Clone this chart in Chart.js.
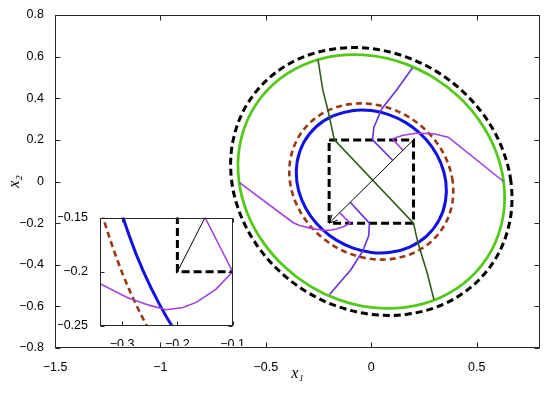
<!DOCTYPE html>
<html>
<head>
<meta charset="utf-8">
<script src="https://cdn.jsdelivr.net/npm/chart.js@4.4.0/dist/chart.umd.min.js"></script>
<style>
    html, body { margin: 0; padding: 0; background: #fff; }
    #wrap { position: relative; width: 550px; height: 393px; }
    #main { position: absolute; left: 0; top: 0; }
    #inset { position: absolute; left: 58px; top: 206px; }
</style>
</head>
<body>
<div id="wrap">
    <canvas id="main" width="550" height="393"></canvas>
    <canvas id="inset" width="190" height="140"></canvas>
</div>
<script>
// Tick labels
const xTicks = [-1.5, -1, -0.5, 0, 0.5];
const yTicks = [-0.8, -0.6, -0.4, -0.2, 0, 0.2, 0.4, 0.6, 0.8];
const insetXTicks = [-0.3, -0.2, -0.1];
const insetYTicks = [-0.25, -0.2, -0.15];

// Level curves, drawn as closed loops
const outerLevel = [[0.6620,0],[0.6181,0.1656],[0.5390,0.3112],[0.4332,0.4332],[0.3062,0.5302],[0.1608,0.6002],[0,0.6385],[-0.1709,0.6379],[-0.3408,0.5902],[-0.4914,0.4914],[-0.6022,0.3477],[-0.6595,0.1767],[-0.6620,0],[-0.6181,-0.1656],[-0.5390,-0.3112],[-0.4332,-0.4332],[-0.3062,-0.5302],[-0.1608,-0.6002],[0,-0.6385],[0.1709,-0.6379],[0.3408,-0.5902],[0.4914,-0.4914],[0.6022,-0.3477],[0.6595,-0.1767]];
const greenLevel = [[0.6275,0],[0.5859,0.1570],[0.5109,0.2950],[0.4106,0.4106],[0.2902,0.5026],[0.1524,0.5689],[0,0.6052],[-0.1620,0.6046],[-0.3230,0.5594],[-0.4658,0.4658],[-0.5708,0.3296],[-0.6251,0.1675],[-0.6275,0],[-0.5859,-0.1570],[-0.5109,-0.2950],[-0.4106,-0.4106],[-0.2902,-0.5026],[-0.1524,-0.5689],[0,-0.6052],[0.1620,-0.6046],[0.3230,-0.5594],[0.4658,-0.4658],[0.5708,-0.3296],[0.6251,-0.1675]];
const brownLevel = [[0.3859,0],[0.3603,0.0966],[0.3142,0.1814],[0.2525,0.2525],[0.1785,0.3091],[0.0937,0.3499],[0,0.3722],[-0.0996,0.3718],[-0.1986,0.3440],[-0.2865,0.2865],[-0.3510,0.2027],[-0.3844,0.1030],[-0.3859,0],[-0.3603,-0.0966],[-0.3142,-0.1814],[-0.2525,-0.2525],[-0.1785,-0.3091],[-0.0937,-0.3499],[0,-0.3722],[0.0996,-0.3718],[0.1986,-0.3440],[0.2865,-0.2865],[0.3510,-0.2027],[0.3844,-0.1030]];
const blueLevel = [[0.3533,0],[0.3299,0.0884],[0.2876,0.1661],[0.2312,0.2312],[0.1634,0.2830],[0.0858,0.3203],[0,0.3407],[-0.0912,0.3404],[-0.1818,0.3149],[-0.2622,0.2622],[-0.3214,0.1856],[-0.3519,0.0943],[-0.3533,0],[-0.3299,-0.0884],[-0.2876,-0.1661],[-0.2312,-0.2312],[-0.1634,-0.2830],[-0.0858,-0.3203],[0,-0.3407],[0.0912,-0.3404],[0.1818,-0.3149],[0.2622,-0.2622],[0.3214,-0.1856],[0.3519,-0.0943]];

// Box and diagonal
const boxCorners = [[-0.2,0.2],[0.2,0.2],[0.2,-0.2],[-0.2,-0.2],[-0.2,0.2]];
const diagonal = [[0.2,0.2],[-0.2,-0.2]];

// Trajectories
const trajGreen = [[-0.253,0.587],[-0.23,0.44],[-0.205,0.34],[-0.19,0.27],[-0.175,0.2],[0.2,-0.2],[0.22,-0.29],[0.265,-0.44],[0.297,-0.567]];
const trajViolet1 = [[0.195,0.545],[0.12,0.44],[0.05,0.35],[0.012,0.26],[0.006,0.2],[0.1,0.103]];
const trajViolet2 = [[-0.198,-0.543],[-0.096,-0.423],[-0.041,-0.335],[-0.012,-0.26],[-0.009,-0.2],[-0.1,-0.1]];
const trajMagenta1 = [[0.627,0.0],[0.365,0.213],[0.3,0.228],[0.22,0.233],[0.15,0.222],[0.1,0.205],[0.15,0.15]];
const trajMagenta2 = [[-0.625,-0.005],[-0.37,-0.198],[-0.34,-0.211],[-0.29,-0.224],[-0.25,-0.231],[-0.22,-0.235],[-0.19,-0.233],[-0.165,-0.228],[-0.13,-0.216],[-0.1,-0.2],[-0.15,-0.15]];

const tickFont = { family: "'Liberation Sans', Arial, sans-serif", size: 12.5 };
const titleFont = { family: "'Liberation Serif', 'DejaVu Serif', serif", style: 'italic', size: 16 };

function fmt(v) {
    const r = Math.round(v * 100) / 100;
    return String(r).replace('-', '\u2212');
}

function line(points, color, width, extra) {
    return Object.assign({
        data: points.map(p => ({ x: p[0], y: p[1] })),
        showLine: true,
        borderColor: color,
        backgroundColor: color,
        borderWidth: width,
        pointRadius: 0,
        tension: 0,
        fill: false
    }, extra || {});
}

// first entry is drawn on top
function makeDatasets() {
    return [
        line(diagonal, '#000', 1),
        line(trajMagenta1, '#a13fe0', 1.6),
        line(trajMagenta2, '#a13fe0', 1.6),
        line(trajViolet1, '#6930d6', 1.6),
        line(trajViolet2, '#6930d6', 1.6),
        line(trajGreen, '#2e5e18', 1.6),
        line(boxCorners, '#000', 3, { borderDash: [8, 4] }),
        line(blueLevel, '#1212e0', 3, { tension: 0.34, closed: true }),
        line(brownLevel, '#9a3812', 2.6, { tension: 0.34, closed: true, borderDash: [6, 4] }),
        line(greenLevel, '#55c81c', 2.8, { tension: 0.34, closed: true }),
        line(outerLevel, '#000', 3, { tension: 0.34, closed: true, borderDash: [7, 4] })
    ];
}

// close the level curves into smooth loops
const closeLoops = {
    id: 'closeLoops',
    beforeDatasetsDraw(chart) {
        chart.data.datasets.forEach((ds, i) => {
            if (!ds.closed) return;
            const meta = chart.getDatasetMeta(i);
            const el = meta.dataset;
            el._loop = true;
            el._fullLoop = true;
            delete el._segments;
            el._path = undefined;
            el._pointsUpdated = false;
            el.updateControlPoints(chart.chartArea, meta.iScale ? meta.iScale.axis : 'x');
        });
    }
};

function frameAndTicks(xt, yt, len, arrow) {
    return {
        id: 'frameAndTicks',
        beforeDraw(chart) {
            const { ctx, chartArea: a } = chart;
            ctx.save();
            ctx.fillStyle = '#fff';
            if (arrow) ctx.fillRect(0, 0, chart.width, chart.height);
            else ctx.fillRect(a.left, a.top, a.right - a.left, a.bottom - a.top);
            ctx.restore();
        },
        afterDraw(chart) {
            const { ctx, chartArea: a, scales } = chart;
            ctx.save();
            ctx.strokeStyle = '#262626';
            ctx.lineWidth = 1;
            const L = Math.round(a.left) + 0.5, R = Math.round(a.right) - 0.5;
            const T = Math.round(a.top) + 0.5, B = Math.round(a.bottom) - 0.5;
            ctx.strokeRect(L, T, R - L, B - T);
            ctx.beginPath();
            xt.forEach(v => {
                const px = Math.round(scales.x.getPixelForValue(v)) + 0.5;
                ctx.moveTo(px, B); ctx.lineTo(px, B - len);
                ctx.moveTo(px, T); ctx.lineTo(px, T + len);
            });
            yt.forEach(v => {
                const py = Math.round(scales.y.getPixelForValue(v)) + 0.5;
                ctx.moveTo(L, py); ctx.lineTo(L + len, py);
                ctx.moveTo(R, py); ctx.lineTo(R - len, py);
            });
            ctx.stroke();
            if (arrow) {
                const tipX = scales.x.getPixelForValue(diagonal[1][0]);
                const tipY = scales.y.getPixelForValue(diagonal[1][1]);
                const tailX = scales.x.getPixelForValue(diagonal[0][0]);
                const tailY = scales.y.getPixelForValue(diagonal[0][1]);
                const ang = Math.atan2(tailY - tipY, tailX - tipX);
                ctx.strokeStyle = '#000';
                ctx.beginPath();
                [-0.45, 0.45].forEach(d => {
                    ctx.moveTo(tipX, tipY);
                    ctx.lineTo(tipX + 9 * Math.cos(ang + d), tipY + 9 * Math.sin(ang + d));
                });
                ctx.stroke();
            }
            ctx.restore();
        }
    };
}

function axis(min, max, ticks, size, pad, isX, title) {
    const s = {
        type: 'linear',
        min: min,
        max: max,
        afterBuildTicks: a => { a.ticks = ticks.map(v => ({ value: v })); },
        afterFit: sc => { if (isX) sc.height = size; else sc.width = size; },
        grid: { display: false },
        border: { display: false },
        ticks: { font: tickFont, color: '#000', padding: pad, maxRotation: 0, autoSkip: false, callback: v => fmt(v) }
    };
    if (title) s.title = title;
    return s;
}

new Chart(document.getElementById('main'), {
    type: 'scatter',
    data: { datasets: makeDatasets() },
    options: {
        responsive: false,
        animation: false,
        events: [],
        layout: { padding: { left: 0, right: 10, top: 15, bottom: 0 } },
        scales: {
            x: axis(-1.5, 0.8, xTicks, 45, 4, true,
                { display: true, text: 'x\u2081', font: titleFont, color: '#000', padding: { top: 0, bottom: 10 } }),
            y: axis(-0.8, 0.8, yTicks, 55, 3, false,
                { display: true, text: 'x\u2082', font: titleFont, color: '#000', padding: { top: 5, bottom: 0 } })
        },
        plugins: { legend: { display: false }, tooltip: { enabled: false } }
    },
    plugins: [closeLoops, frameAndTicks(xTicks, yTicks, 5, true)]
});

new Chart(document.getElementById('inset'), {
    type: 'scatter',
    data: { datasets: makeDatasets() },
    options: {
        responsive: false,
        animation: false,
        events: [],
        layout: { padding: { left: 0, right: 8, top: 10, bottom: 0 } },
        scales: {
            x: axis(-0.34, -0.1, insetXTicks, 20, 3, true),
            y: axis(-0.25, -0.15, insetYTicks, 42, 4, false)
        },
        plugins: { legend: { display: false }, tooltip: { enabled: false } }
    },
    plugins: [closeLoops, frameAndTicks(insetXTicks, insetYTicks, 4, false)]
});
</script>
</body>
</html>
